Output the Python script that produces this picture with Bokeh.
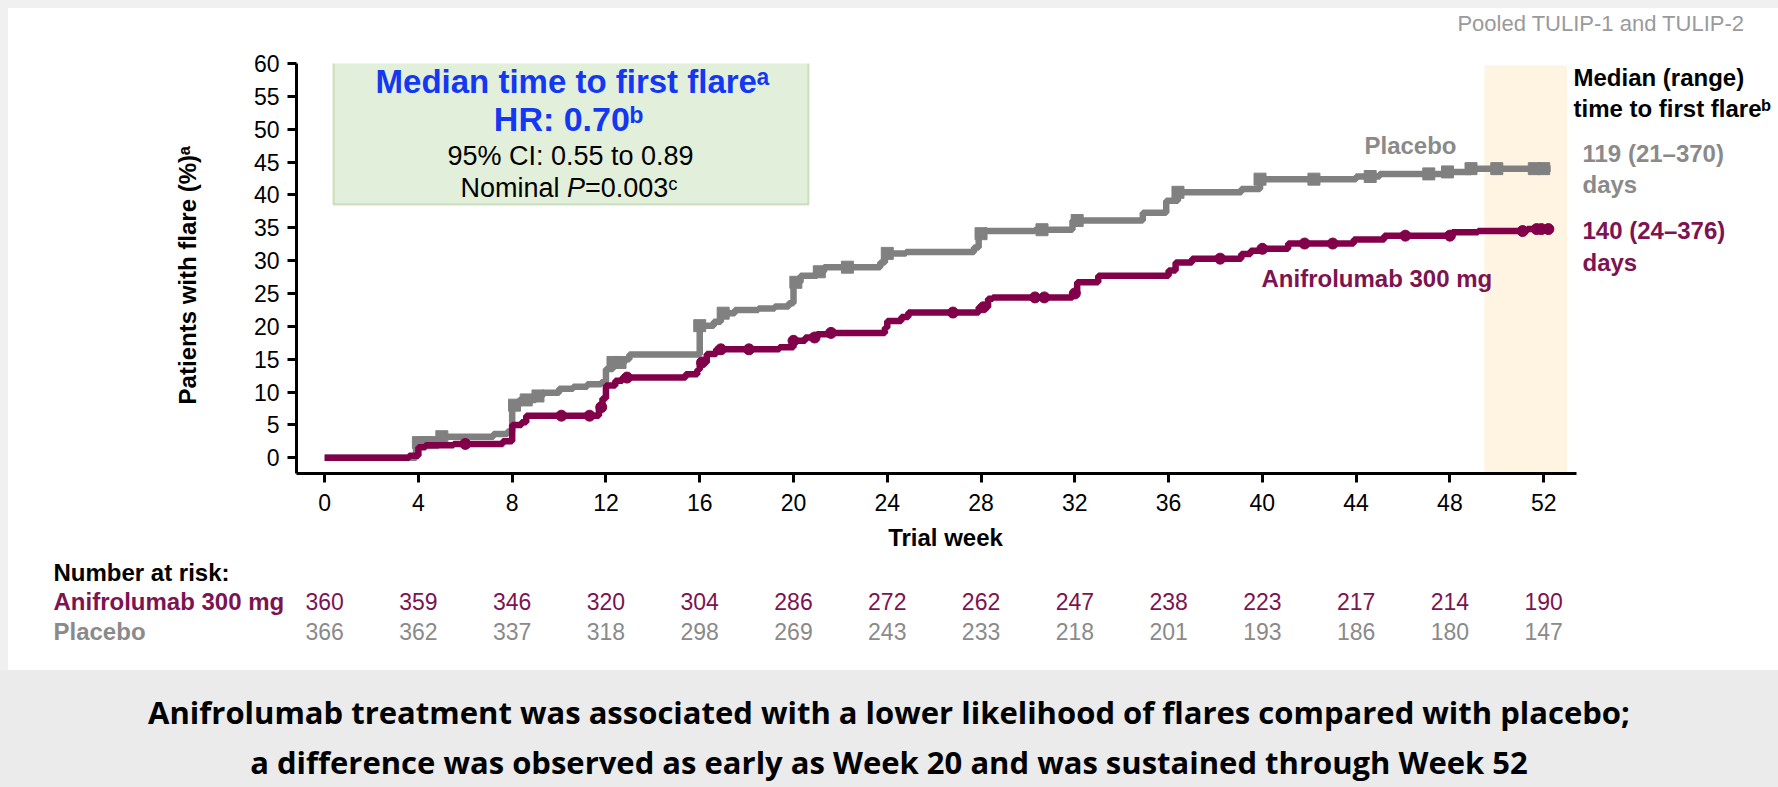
import numpy as np
from bokeh.plotting import figure
from bokeh.models import Label, BoxAnnotation, Div, FixedTicker, Range1d
from bokeh.layouts import column, row
from bokeh.embed import file_html
from bokeh.resources import INLINE
from bokeh.core.properties import value

# Kaplan-Meier curves: trial week at each step and cumulative % of patients with a flare
anif_weeks = [0, 3.6, 4.0, 4.3, 5.5, 7.6, 8.0, 8.4, 8.6, 11.7, 11.85, 12.0, 12.4, 12.7, 15.4, 15.9,
              16.0, 16.3, 16.7, 19.4, 20.0, 20.5, 21.0, 21.5, 23.9, 24.0, 24.6, 24.9, 27.9, 28.3,
              28.5, 31.9, 32.1, 33.0, 36.0, 36.3, 37.0, 39.1, 39.5, 39.9, 41.1, 43.9, 45.2, 48.1,
              49.2, 51.3, 52.3]
anif_pct = [0, 0.3, 1.6, 1.9, 2.1, 2.5, 5.0, 5.4, 6.4, 7.7, 9.0, 11.0, 11.7, 12.2, 12.7, 13.4,
            14.5, 15.8, 16.5, 16.8, 17.8, 18.3, 18.8, 19.0, 19.8, 20.8, 21.4, 22.1, 22.9, 24.2,
            24.4, 25.0, 26.7, 27.7, 28.5, 29.7, 30.3, 31.0, 31.5, 31.8, 32.6, 33.2, 33.8, 34.3,
            34.5, 34.8, 35.0]
pbo_weeks = [0, 3.9, 4.8, 5.0, 7.2, 7.8, 8.0, 8.3, 9.0, 9.3, 10.0, 10.6, 11.2, 11.8, 12.0, 12.3,
             12.8, 13.0, 16.0, 16.6, 16.9, 17.5, 18.5, 19.2, 19.8, 20.0, 20.3, 21.0, 21.3, 23.7,
             23.9, 24.8, 27.7, 27.9, 28.1, 30.3, 31.9, 34.9, 35.9, 36.4, 39.1, 39.9, 44.0, 45.0,
             47.7, 48.9, 52.3]
pbo_pct = [0, 2.3, 2.8, 3.2, 3.6, 4.0, 8.0, 8.8, 9.4, 9.9, 10.5, 10.8, 11.2, 11.5, 13.5, 14.5,
           15.0, 15.7, 20.1, 20.7, 22.0, 22.5, 22.7, 23.0, 23.5, 26.7, 27.7, 28.3, 29.0, 29.7,
           31.1, 31.3, 32.0, 34.1, 34.5, 34.7, 36.1, 37.3, 39.1, 40.4, 40.9, 42.4, 42.8, 43.2,
           43.5, 44.0, 44.0]

# Censoring marks (trial week)
anif_censor_weeks = [6.0, 10.1, 11.3, 11.8, 12.9, 16.1, 16.9, 18.1, 20.0, 20.9, 21.6, 26.8, 28.1,
                     30.3, 30.7, 32.0, 38.2, 40.0, 41.8, 43.0, 46.1, 48.0, 51.1, 51.7, 51.9, 52.2]
pbo_censor_weeks = [4.0, 4.3, 4.6, 5.0, 8.1, 8.6, 9.1, 12.3, 12.6, 16.0, 17.0, 20.1, 21.1, 22.3,
                    24.0, 28.0, 30.6, 32.1, 36.4, 39.9, 42.2, 44.6, 47.1, 47.9, 48.9, 50.0, 51.6, 52.0]

# Number at risk
risk_weeks = [0, 4, 8, 12, 16, 20, 24, 28, 32, 36, 40, 44, 48, 52]
risk_anif = [360, 359, 346, 320, 304, 286, 272, 262, 247, 238, 223, 217, 214, 190]
risk_pbo = [366, 362, 337, 318, 298, 269, 243, 233, 218, 201, 193, 186, 180, 147]

x_ticks = [0, 4, 8, 12, 16, 20, 24, 28, 32, 36, 40, 44, 48, 52]
y_ticks = [0, 5, 10, 15, 20, 25, 30, 35, 40, 45, 50, 55, 60]

PURPLE = "#82004a"
PURPLE_TXT = "#7d1350"
GREY = "#808080"
GREY_TXT = "#8a8a8a"
BLUE = "#1438f2"
FONT = "Liberation Sans"

# page geometry in pixels
PAGE_W, PAGE_H = 1778, 787
EDGE = 8                      # light grey strip along the top and the left
HEADER_H = 40                 # strip holding the study note
BANNER_Y, BANNER_H = 670, 117
PL, PR, PT, PB = 296, 1576, 63, 473   # plotting frame of the curves
TABLE_TOP = 525
X0, X1 = -1.2, 53.4
Y0, Y1 = -2.4, 60.0
KX = (X1 - X0) / (PR - PL)
KY = (Y1 - Y0) / (PB - PT)


def dx(px):
    return X0 + (px - PL) * KX


def dy(py):
    return Y1 - (py - PT) * KY


def step_value(weeks, pct, t):
    i = int(np.searchsorted(np.asarray(weeks), t, side="right")) - 1
    return pct[max(i, 0)]


FIG_W = PAGE_W - EDGE
MAIN_H = TABLE_TOP - (EDGE + HEADER_H)

# ---------------- curves ----------------
p = figure(width=FIG_W, height=MAIN_H, x_range=Range1d(X0, dx(PAGE_W)), y_range=Range1d(Y0, Y1),
           output_backend="svg", toolbar_location=None, frame_align=False,
           min_border_left=PL - EDGE, min_border_right=0,
           min_border_top=PT - (EDGE + HEADER_H), min_border_bottom=TABLE_TOP - PB)
p.outline_line_color = None
p.xgrid.grid_line_color = None
p.ygrid.grid_line_color = None
p.border_fill_color = "white"

p.xaxis.ticker = FixedTicker(ticks=x_ticks)
p.yaxis.ticker = FixedTicker(ticks=y_ticks)
p.xaxis.bounds = (X0, X1)
p.yaxis.bounds = (Y0, Y1)
for ax in (p.xaxis[0], p.yaxis[0]):
    ax.axis_line_width = 3
    ax.axis_line_color = "black"
    ax.major_tick_line_width = 3
    ax.major_tick_line_color = "black"
    ax.major_tick_out = 9
    ax.major_tick_in = 0
    ax.minor_tick_line_color = None
    ax.major_label_text_font = FONT
    ax.major_label_text_font_size = "23px"
    ax.major_label_text_color = "black"
p.xaxis.major_label_standoff = 11
p.yaxis.major_label_standoff = 8
# two trailing no-break spaces nudge the rotated title slightly downwards
p.yaxis.axis_label = "Patients with flare (%)ᵃ\u00a0\u00a0"
p.yaxis.axis_label_text_font = FONT
p.yaxis.axis_label_text_font_style = "bold"
p.yaxis.axis_label_text_font_size = "24px"
p.yaxis.axis_label_text_color = "black"
p.yaxis.axis_label_standoff = 50

# week 52 window
p.add_layout(BoxAnnotation(left=49.47, right=53.0, top=dy(65), fill_color="#fef4e1",
                           fill_alpha=1, line_color=None, level="underlay"))

p.step(pbo_weeks, pbo_pct, mode="after", line_width=6.5, line_color=GREY)
p.scatter(pbo_censor_weeks, [step_value(pbo_weeks, pbo_pct, t) for t in pbo_censor_weeks],
          marker="square", size=12, fill_color=GREY, line_color=GREY)
p.step(anif_weeks, anif_pct, mode="after", line_width=6.5, line_color=PURPLE)
p.scatter(anif_censor_weeks, [step_value(anif_weeks, anif_pct, t) for t in anif_censor_weeks],
          marker="circle", size=11, fill_color=PURPLE, line_color=PURPLE)


def label(px, py, text, size="24px", color="black", style="normal", align="left"):
    p.add_layout(Label(x=dx(px), y=dy(py), text=text, text_font=FONT, text_font_size=size,
                       text_color=color, text_font_style=style, text_align=align,
                       text_baseline="middle"))


# statistics box
p.add_layout(BoxAnnotation(left=dx(333), right=dx(808), top=dy(59), bottom=dy(204),
                           fill_color="#e2efda", fill_alpha=1, line_color="#70ad47", line_width=2))
label(572, 81, "Median time to first flareᵃ", "33px", BLUE, "bold", "center")
label(568, 118, "HR: 0.70ᵇ", "34px", BLUE, "bold", "center")
label(570, 155, "95% CI: 0.55 to 0.89", "27px", "black", "normal", "center")
label(460, 187, "Nominal ", "27px")
label(566.5, 187, "P", "27px", "black", "italic")
label(584.5, 187, "=0.003ᶜ", "27px")

# curve labels
label(1410, 145, "Placebo", "24px", GREY_TXT, "bold", "center")
label(1261, 278, "Anifrolumab 300 mg", "24px", PURPLE_TXT, "bold")

# median time column
label(1573, 77, "Median (range)", "24px", "black", "bold")
label(1573, 108, "time to first flareᵇ", "24px", "black", "bold")
label(1582, 153, "119 (21–370)", "24px", GREY_TXT, "bold")
label(1582, 184, "days", "24px", GREY_TXT, "bold")
label(1582, 230, "140 (24–376)", "24px", PURPLE_TXT, "bold")
label(1582, 262, "days", "24px", PURPLE_TXT, "bold")

# ---------------- axis title and number at risk ----------------
TABLE_H = BANNER_Y - TABLE_TOP
t = figure(width=FIG_W, height=TABLE_H, x_range=Range1d(dx(EDGE), dx(PAGE_W)),
           y_range=Range1d(0, TABLE_H), output_backend="svg", toolbar_location=None,
           x_axis_type=None, y_axis_type=None, min_border=0, frame_align=False)
t.outline_line_color = None
t.xgrid.grid_line_color = None
t.ygrid.grid_line_color = None


def ty(py):
    return BANNER_Y - py


t.text(x=[dx(945)], y=[ty(537)], text=["Trial week"], text_font=value(FONT),
       text_font_style="bold", text_font_size=value("24px"), text_color="black",
       text_align="center", text_baseline="middle")
t.text(x=[dx(53)] * 3, y=[ty(572), ty(601), ty(631)],
       text=["Number at risk:", "Anifrolumab 300 mg", "Placebo"],
       text_font=value(FONT), text_font_style="bold", text_font_size=value("24px"),
       text_color=["black", PURPLE_TXT, GREY_TXT], text_align="left", text_baseline="middle")
for counts, py, col in ((risk_anif, 601, PURPLE_TXT), (risk_pbo, 631, GREY_TXT)):
    t.text(x=risk_weeks, y=[ty(py)] * len(risk_weeks), text=[str(c) for c in counts],
           text_font=value(FONT), text_font_size=value("23px"), text_color=col,
           text_align="center", text_baseline="middle")

# ---------------- page furniture ----------------
STRIP = "#f0f0f0"
top_strip = Div(width=PAGE_W, height=EDGE, margin=0, styles={"background-color": STRIP})
left_strip = Div(width=EDGE, height=PAGE_H - EDGE - BANNER_H, margin=0,
                 styles={"background-color": STRIP})
header = Div(width=FIG_W, height=HEADER_H, margin=0, styles={"background-color": "white"},
             text=("<div style='width:1736px;text-align:right;font-family:\"Liberation Sans\";"
                   "font-size:22px;line-height:32px;color:#9a9a9a'>Pooled TULIP-1 and TULIP-2</div>"))
banner = Div(width=PAGE_W, height=BANNER_H, margin=0, styles={"background-color": "#ebebeb"},
             text=("<div style='width:1778px;padding-top:17px;text-align:center;"
                   "font-family:\"Open Sans\";font-weight:bold;font-size:31px;line-height:50px;"
                   "color:#000'>"
                   "Anifrolumab treatment was associated with a lower likelihood of flares compared with placebo;"
                   "<br>a difference was observed as early as Week 20 and was sustained through Week 52</div>"))

page = column(top_strip,
              row(left_strip, column(header, p, t, spacing=0), spacing=0),
              banner, spacing=0)

open("out.html", "w").write(file_html(page, INLINE))
